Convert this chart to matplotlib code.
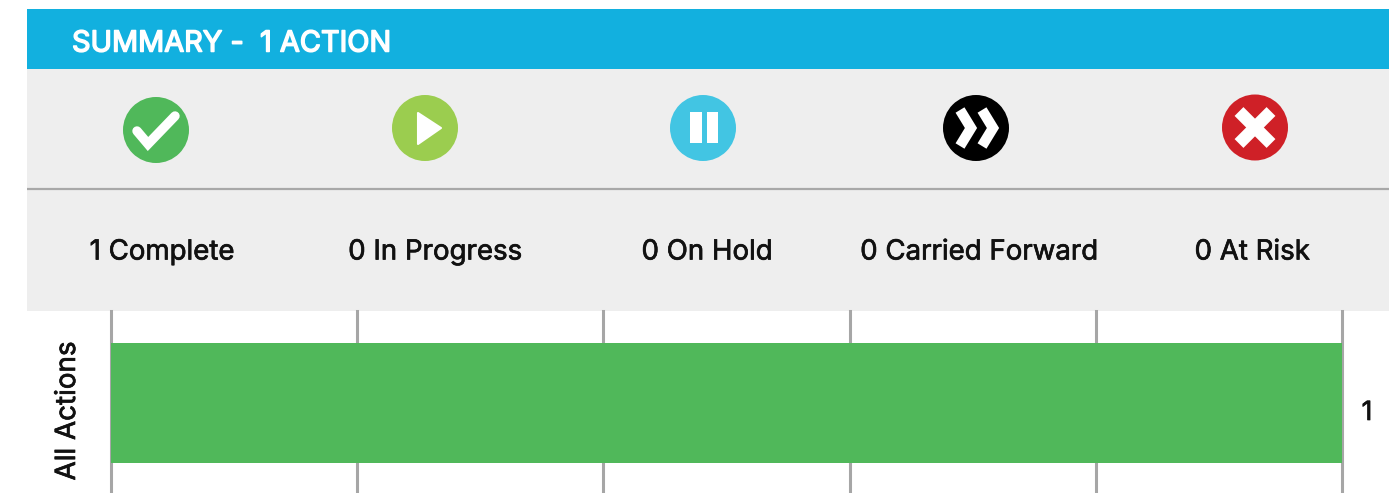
#summary bar with status icons
import matplotlib
matplotlib.use("Agg")
from matplotlib import pyplot as plt
from matplotlib.patches import Circle, Rectangle, Polygon
import matplotlib.patheffects as pe

title = 'SUMMARY -  1 ACTION'
statuses = ['Complete', 'In Progress', 'On Hold', 'Carried Forward', 'At Risk']
status_counts = [1, 0, 0, 0, 0]
status_colors = ['#50B85A', '#9BCD4F', '#42C5E3', '#000000', '#CF2027']
category = 'All Actions'
bar_total = 1
x_ticks = [0, 0.2, 0.4, 0.6, 0.8, 1.0]

W = 1389.
H = 493.
plt.rcParams['font.family'] = ['Inter', 'DejaVu Sans']

fig = plt.figure(figsize=(13.89, 4.93), dpi=100)

# pixel coordinates overlay for the header panels
bg = fig.add_axes([0, 0, 1, 1])
bg.set_xlim(0, W)
bg.set_ylim(H, 0)
bg.axis('off')

# regular weight is a bit thin next to the reference, thicken it slightly
heavy = [pe.withStroke(linewidth=0.5, foreground='#111111')]
heavy_w = [pe.withStroke(linewidth=1.1, foreground='white')]

bg.add_patch(Rectangle((27, 9), W - 27, 60, fc='#12B0DF', ec='none'))
bg.add_patch(Rectangle((27, 69), W - 27, 242, fc='#EEEEEE', ec='none'))
bg.plot([27, W], [189, 189], color='#A8A8A8', lw=1.6, solid_capstyle='butt')
bg.text(72, 44, title, color='white', fontsize=20.8, va='center', ha='left', path_effects=heavy_w)

icon_x = [156, 425, 703, 976, 1255]
icon_y = [130, 128, 128, 128, 127.5]
label_x = [162, 435, 707, 979, 1252]

for i in range(len(statuses)):
    cx = icon_x[i]
    cy = icon_y[i]
    bg.add_patch(Circle((cx, cy), 33, fc=status_colors[i], ec='none'))
    if i == 0:
        bg.plot([cx - 19, cx - 8, cx + 19], [cy + 1, cy + 14, cy - 14], color='white', lw=6.8,
                solid_joinstyle='miter', solid_capstyle='round')
    elif i == 1:
        bg.add_patch(Polygon([(cx - 7, cy - 15), (cx + 16, cy), (cx - 7, cy + 16)], fc='white', ec='white',
                             lw=1.5, joinstyle='round'))
    elif i == 2:
        bg.add_patch(Rectangle((cx - 13, cy - 16), 12, 31, fc='white', ec='none'))
        bg.add_patch(Rectangle((cx + 4, cy - 16), 11, 31, fc='white', ec='none'))
    elif i == 3:
        for off in [-16, 6]:
            bg.plot([cx + off, cx + off + 11, cx + off], [cy - 18, cy, cy + 18], color='white', lw=7.5,
                    solid_joinstyle='miter', solid_capstyle='butt')
    elif i == 4:
        bg.plot([cx - 16, cx + 16], [cy - 16, cy + 16], color='white', lw=9, solid_capstyle='butt')
        bg.plot([cx - 16, cx + 16], [cy + 16, cy - 16], color='white', lw=9, solid_capstyle='butt')
    bg.text(label_x[i], 252.5, '%d %s' % (status_counts[i], statuses[i]), color='#111111', fontsize=19.9,
            va='center', ha='center', path_effects=heavy)

# the bar itself
left = 111 / W
right = 1342 / W
bottom = 0
top = 1 - 311 / H
ax = fig.add_axes([left, bottom, right - left, top - bottom])
ax.patch.set_alpha(0)
ax.barh([0], [bar_total], height=120, color=status_colors[0], zorder=2, align='center')
ax.set_xlim(0, 1)
ax.set_ylim(-90, 92)
ax.set_xticks(x_ticks)
ax.set_yticks([])
ax.tick_params(axis='x', length=0, labelbottom=False)
ax.grid(axis='x', color='#A6A6A6', lw=2.2, zorder=1)
for s in ax.spines.values():
    s.set_visible(False)
for t in ax.xaxis.get_gridlines():
    t.set_clip_on(False)

bg.text(68, 411, category, rotation=90, color='#111111', fontsize=20, va='center', ha='center', path_effects=heavy)
bg.text(1367, 413, str(bar_total), color='#111111', fontsize=19, va='center', ha='center', path_effects=heavy)

fig.savefig('out.png', dpi=100)
